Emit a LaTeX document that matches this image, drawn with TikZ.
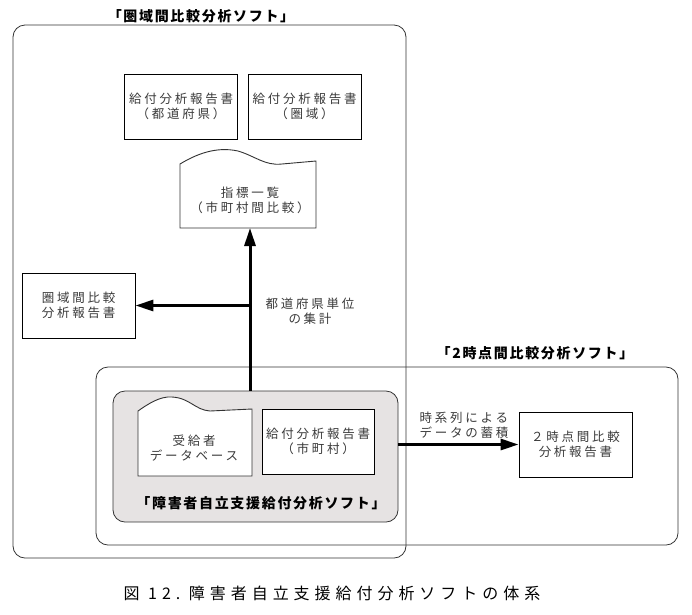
\documentclass[tikz,border=0pt]{standalone}
\usepackage{fontspec}
\usetikzlibrary{arrows.meta}

\newfontfamily\jpbody[LetterSpace=22]{Noto Sans CJK JP}
\newfontfamily\jptitle[LetterSpace=12]{Noto Sans CJK JP}
\newfontfamily\jpcap[LetterSpace=31]{Noto Sans CJK JP}
\definecolor{txtgray}{HTML}{3A3A3A}
\definecolor{toolgray}{HTML}{E6E3E3}

\begin{document}
\begin{tikzpicture}[x=1pt,y=-1pt,
    bodytext/.style={align=center, text=txtgray, inner sep=0pt,
      font=\jpbody\fontsize{12.5}{15}\selectfont},
    report/.style={bodytext, draw=black, line width=0.9pt, fill=white,
      minimum width=113pt, minimum height=65pt},
    docline/.style={draw=black!80, line width=0.9pt, fill=white},
    frame/.style={draw=black!80, line width=0.8pt, rounded corners=12pt},
    title/.style={inner sep=0pt, font=\jptitle\bfseries\fontsize{14}{16}\selectfont},
    flow/.style={line width=3pt, -{Triangle[length=18pt,width=11pt]}}]

    \useasboundingbox (0,0) rectangle (692,614);

    % Software frames
    \draw[frame] (13,25) rectangle (406,558);
    \draw[frame] (96,367) rectangle (678,545);
    \node[draw=black!80, line width=0.8pt, fill=toolgray, rounded corners=12pt,
      minimum width=285pt, minimum height=131pt] (tool) at (255.5,456.5) {};

    \node[title] (kenttl) at (201,16) {「圏域間比較分析ソフト」};
    \node[title] (twottl) at (535,353) {「2時点間比較分析ソフト」};
    \node[title] (toolttl) at (261,503) {「障害者自立支援給付分析ソフト」};

    % Reports
    \node[report] (pref) at (181,106.5) {給付分析報告書\\（都道府県）};
    \node[report] (area) at (304.5,106.5) {給付分析報告書\\（圏域）};
    \node[report] (kencmp) at (78.5,305.5) {圏域間比較\\分析報告書};
    \node[report, minimum width=112pt] (city) at (318,441.5) {給付分析報告書\\（市町村）};
    \node[report] (twocmp) at (575.5,444.5) {２時点間比較\\分析報告書};

    % Documents with wavy top
    \draw[docline] (180,228) -- (180,164) .. controls (195,155) and (215,146) .. (238,151)
      .. controls (255,156) and (265,166) .. (282,164) -- (316,161) -- (316,228) -- cycle;
    \node[bodytext] (index) at (250,200) {指標一覧\\（市町村間比較）};
    \draw[docline] (138,476) -- (138,411) .. controls (148,404) and (160,396) .. (172,397)
      .. controls (190,398) and (195,410) .. (210,411) -- (252,409) -- (252,476) -- cycle;
    \node[bodytext] (db) at (194,448) {受給者\\データベース};

    % Flows
    \coordinate (idxbot) at (250,228);
    \draw[flow] (tool.north -| idxbot) -- (idxbot);
    \draw[flow] (kencmp.east -| idxbot) -- (kencmp.east);
    \draw[flow] (twocmp.west -| tool.east) -- (twocmp.west);
    \node[bodytext] (sumlbl) at (310,311) {都道府県単位\\の集計};
    \node[bodytext, align=left] (histlbl) at (464,425) {時系列による\\データの蓄積};

    % Caption
    \node[inner sep=0pt, font=\jpcap\fontsize{16}{18}\selectfont] (cap) at (332,593)
      {図 12.\ 障害者自立支援給付分析ソフトの体系};
\end{tikzpicture}
\end{document}
